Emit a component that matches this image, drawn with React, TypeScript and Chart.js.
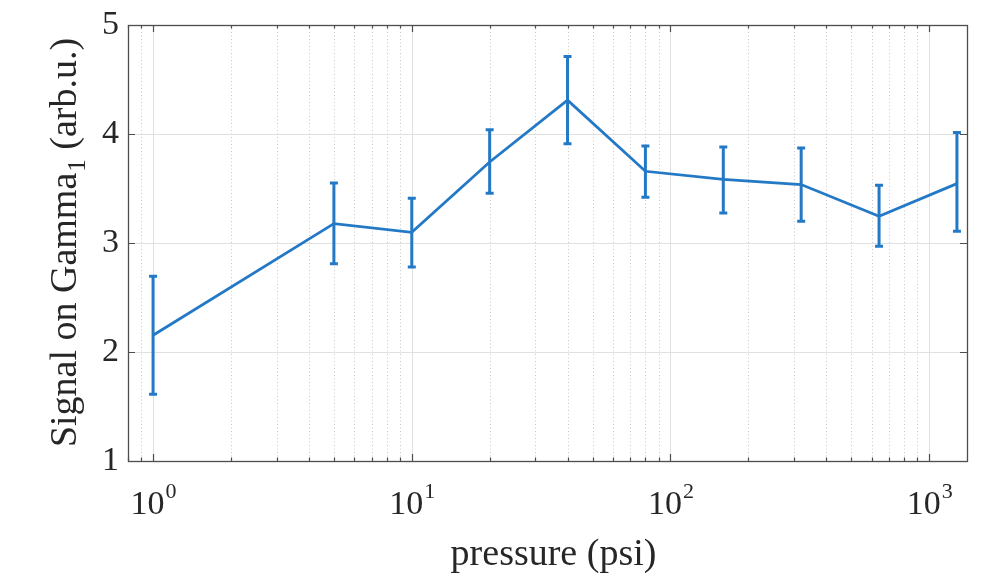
import React, { useEffect, useRef } from "react";
import { Chart, registerables } from "chart.js";

Chart.register(...registerables);

// ---- data ----
const pressure = [1, 5, 10, 20, 40, 80, 160, 320, 640, 1280];
const signal = [2.154, 3.178, 3.098, 3.743, 4.31, 3.658, 3.584, 3.536, 3.245, 3.545];
const errUpper = [2.695, 3.55, 3.41, 4.04, 4.71, 3.89, 3.88, 3.872, 3.53, 4.013];
const errLower = [1.612, 2.81, 2.78, 3.456, 3.91, 3.42, 3.275, 3.2, 2.97, 3.107];

const yTicks = [1, 2, 3, 4, 5];
const xMajorTicks = [1, 10, 100, 1000];
const xTickBase = "10";
const xTickExponents = ["0", "1", "2", "3"];
const xMin = 0.8;
const xMax = 1400;
const yMin = 1;
const yMax = 5;

const xTitle = "pressure (psi)";
const yTitleMain = "Signal on Gamma";
const yTitleSub = "1";
const yTitleTail = " (arb.u.)";

const FONT = "'Liberation Serif', 'Times New Roman', serif";
const TEXT = "#262626";
const BLUE = "#2479C6";

function minorTicks(): number[] {
  const out: number[] = [];
  for (let e = -1; e <= 3; e++) {
    for (let m = 2; m <= 9; m++) {
      const v = m * Math.pow(10, e);
      if (v >= xMin && v <= xMax) out.push(v);
    }
  }
  return out;
}

const decorPlugin = {
  id: "matlabDecor",
  beforeDatasetsDraw(chart: any) {
    const { ctx, chartArea: ca, scales } = chart;
    const xs = scales.x;
    const ys = scales.y;
    ctx.save();
    // minor dotted grid
    ctx.strokeStyle = "#c8c8c8";
    ctx.lineWidth = 1;
    ctx.setLineDash([1, 2.5]);
    for (const v of minorTicks()) {
      const px = Math.round(xs.getPixelForValue(v)) + 0.5;
      ctx.beginPath();
      ctx.moveTo(px, ca.top);
      ctx.lineTo(px, ca.bottom);
      ctx.stroke();
    }
    ctx.setLineDash([]);
    ctx.strokeStyle = "#e0e0e0";
    for (const v of xMajorTicks) {
      const px = Math.round(xs.getPixelForValue(v)) + 0.5;
      ctx.beginPath();
      ctx.moveTo(px, ca.top);
      ctx.lineTo(px, ca.bottom);
      ctx.stroke();
    }
    for (const v of yTicks) {
      const py = Math.round(ys.getPixelForValue(v)) + 0.5;
      ctx.beginPath();
      ctx.moveTo(ca.left, py);
      ctx.lineTo(ca.right, py);
      ctx.stroke();
    }
    ctx.restore();
  },
  afterDatasetsDraw(chart: any) {
    const { ctx, chartArea: ca, scales } = chart;
    const xs = scales.x;
    const ys = scales.y;
    ctx.save();
    // error bars
    ctx.strokeStyle = BLUE;
    ctx.lineWidth = 3;
    ctx.lineCap = "butt";
    pressure.forEach((p, i) => {
      const px = xs.getPixelForValue(p);
      const yt = ys.getPixelForValue(errUpper[i]);
      const yb = ys.getPixelForValue(errLower[i]);
      ctx.beginPath();
      ctx.moveTo(px, yt);
      ctx.lineTo(px, yb);
      ctx.moveTo(px - 4, yt);
      ctx.lineTo(px + 4, yt);
      ctx.moveTo(px - 4, yb);
      ctx.lineTo(px + 4, yb);
      ctx.stroke();
    });

    // axes box
    ctx.strokeStyle = "#4d4d4d";
    ctx.lineWidth = 1.3;
    ctx.strokeRect(Math.round(ca.left) + 0.5, Math.round(ca.top) + 0.5, Math.round(ca.right - ca.left), Math.round(ca.bottom - ca.top));

    // ticks (inward, all four sides)
    ctx.lineWidth = 1.2;
    const drawX = (v: number, len: number) => {
      const px = Math.round(xs.getPixelForValue(v)) + 0.5;
      ctx.beginPath();
      ctx.moveTo(px, ca.bottom);
      ctx.lineTo(px, ca.bottom - len);
      ctx.moveTo(px, ca.top);
      ctx.lineTo(px, ca.top + len);
      ctx.stroke();
    };
    for (const v of minorTicks()) drawX(v, 3.5);
    for (const v of xMajorTicks) drawX(v, 7);
    for (const v of yTicks) {
      const py = Math.round(ys.getPixelForValue(v)) + 0.5;
      ctx.beginPath();
      ctx.moveTo(ca.left, py);
      ctx.lineTo(ca.left + 7, py);
      ctx.moveTo(ca.right, py);
      ctx.lineTo(ca.right - 7, py);
      ctx.stroke();
    }
    ctx.restore();
  },
  afterDraw(chart: any) {
    const { ctx, chartArea: ca, scales } = chart;
    const xs = scales.x;
    ctx.save();
    ctx.fillStyle = TEXT;
    ctx.textBaseline = "alphabetic";
    ctx.textAlign = "left";
    // x tick labels 10^n
    const baseFont = `34px ${FONT}`;
    const supFont = `22px ${FONT}`;
    xMajorTicks.forEach((v, i) => {
      const px = xs.getPixelForValue(v);
      ctx.font = baseFont;
      const wb = ctx.measureText(xTickBase).width;
      ctx.font = supFont;
      const ws = ctx.measureText(xTickExponents[i]).width;
      const x0 = px - (wb + ws) / 2;
      const by = ca.bottom + 53;
      ctx.font = baseFont;
      ctx.fillText(xTickBase, x0, by);
      ctx.font = supFont;
      ctx.fillText(xTickExponents[i], x0 + wb + 1, by - 16);
    });
    // x title
    ctx.font = `38px ${FONT}`;
    ctx.textAlign = "center";
    ctx.fillText(xTitle, (ca.left + ca.right) / 2 + 6, ca.bottom + 104);

    // y title (rotated)
    const mainFont = `38px ${FONT}`;
    const subFont = `25px ${FONT}`;
    ctx.font = mainFont;
    const w1 = ctx.measureText(yTitleMain).width;
    const w3 = ctx.measureText(yTitleTail).width;
    ctx.font = subFont;
    const w2 = ctx.measureText(yTitleSub).width;
    const total = w1 + w2 + w3;
    ctx.translate(76, (ca.top + ca.bottom) / 2);
    ctx.rotate(-Math.PI / 2);
    ctx.textAlign = "left";
    let x = -total / 2;
    ctx.font = mainFont;
    ctx.fillText(yTitleMain, x, 0);
    x += w1;
    ctx.font = subFont;
    ctx.fillText(yTitleSub, x + 1, 9);
    x += w2 + 1;
    ctx.font = mainFont;
    ctx.fillText(yTitleTail, x, 0);
    ctx.restore();
  },
};

export default function App() {
  const canvasRef = useRef<HTMLCanvasElement | null>(null);

  useEffect(() => {
    if (!canvasRef.current) return;
    const chart = new Chart(canvasRef.current, {
      type: "line",
      data: {
        datasets: [
          {
            label: "Signal",
            data: pressure.map((p, i) => ({ x: p, y: signal[i] })),
            borderColor: BLUE,
            backgroundColor: BLUE,
            borderWidth: 2.8,
            pointRadius: 0,
            tension: 0,
            fill: false,
          },
        ],
      },
      options: {
        animation: false,
        responsive: true,
        maintainAspectRatio: false,
        layout: { padding: { left: 0, right: 24, top: 25, bottom: 0 } },
        plugins: {
          legend: { display: false },
          tooltip: { enabled: false },
          title: { display: false },
        },
        scales: {
          x: {
            type: "logarithmic",
            min: xMin,
            max: xMax,
            grid: { display: false },
            border: { display: false },
            ticks: { display: false },
            afterFit(scale: any) {
              scale.height = 116;
              scale.paddingLeft = 0;
              scale.paddingRight = 0;
            },
          },
          y: {
            type: "linear",
            min: yMin,
            max: yMax,
            grid: { display: false, drawTicks: false },
            border: { display: false },
            afterBuildTicks(scale: any) {
              scale.ticks = yTicks.map((v) => ({ value: v }));
            },
            ticks: {
              color: TEXT,
              padding: 9,
              font: { family: FONT, size: 34 },
              callback: (v: any) => String(v),
            },
            afterFit(scale: any) {
              scale.width = 128;
              scale.paddingTop = 0;
              scale.paddingBottom = 0;
            },
          },
        },
      },
      plugins: [decorPlugin],
    });
    return () => chart.destroy();
  }, []);

  return (
    <div style={{ position: "absolute", left: 0, top: 0, width: 991, height: 577, background: "#fff" }}>
      <canvas ref={canvasRef} />
    </div>
  );
}
